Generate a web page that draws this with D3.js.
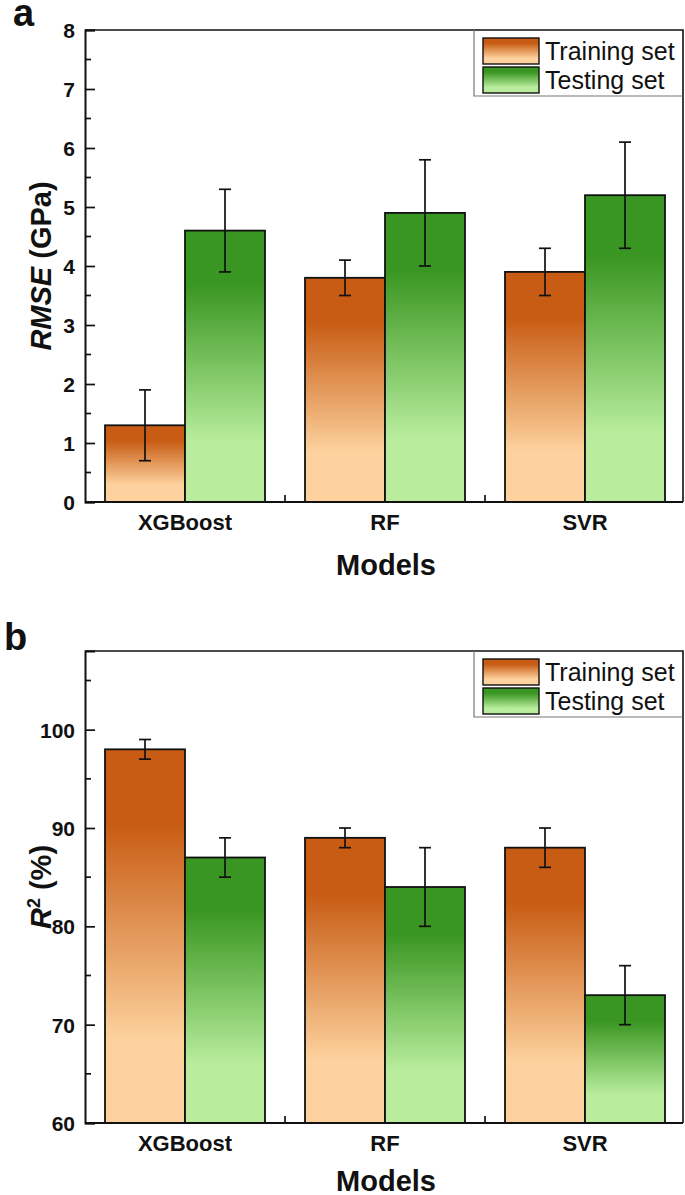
<!DOCTYPE html>
<html><head><meta charset="utf-8">
<script src="https://cdn.jsdelivr.net/npm/d3@7"></script>
<style>body{margin:0;background:#fff;} svg{display:block;font-family:"Liberation Sans",Arial,sans-serif;}</style>
</head><body>
<script>
const models = ["XGBoost","RF","SVR"];
const seriesNames = ["Training set","Testing set"];
// Panel a: RMSE (GPa)
const rmseTrain = [1.3, 3.8, 3.9];
const rmseTrainErr = [0.6, 0.3, 0.4];
const rmseTest = [4.6, 4.9, 5.2];
const rmseTestErr = [0.7, 0.9, 0.9];
const rmseTicks = [0,1,2,3,4,5,6,7,8];
// Panel b: R2 (%)
const r2Train = [98, 89, 88];
const r2TrainErr = [1, 1, 2];
const r2Test = [87, 84, 73];
const r2TestErr = [2, 4, 3];
const r2Ticks = [60,70,80,90,100];

const W = 685, H = 1195;
const svg = d3.select("body").append("svg").attr("width", W).attr("height", H);
const defs = svg.append("defs");
const grads = [
  {id:"gOrange", dark:"#c85c14", light:"#fdd29e"},
  {id:"gGreen", dark:"#3a9622", light:"#b9ed9d"}
];
grads.forEach(g => {
  const lg = defs.append("linearGradient").attr("id", g.id).attr("x1",0).attr("y1",0).attr("x2",0).attr("y2",1);
  lg.append("stop").attr("offset","0").attr("stop-color", g.dark);
  lg.append("stop").attr("offset","0.2").attr("stop-color", g.dark);
  lg.append("stop").attr("offset","0.78").attr("stop-color", g.light);
  lg.append("stop").attr("offset","1").attr("stop-color", g.light);
});
const fills = ["url(#gOrange)","url(#gGreen)"];

function panel(cfg) {
  const left = 85, right = 683, top = cfg.top, bottom = cfg.bottom;
  const g = svg.append("g");
  const x = d3.scaleBand().domain(models).range([left, left + 600]).paddingInner(0.2).paddingOuter(0.1);
  const x1 = d3.scaleBand().domain(seriesNames).range([0, x.bandwidth()]);
  const y = d3.scaleLinear().domain(cfg.domain).range([bottom, top]);

  const data = [];
  models.forEach((m,i) => {
    data.push({m, s:seriesNames[0], v:cfg.train[i], e:cfg.trainErr[i], k:0});
    data.push({m, s:seriesNames[1], v:cfg.test[i], e:cfg.testErr[i], k:1});
  });

  g.selectAll("rect.bar").data(data).join("rect")
    .attr("x", d => x(d.m) + x1(d.s))
    .attr("width", x1.bandwidth())
    .attr("y", d => y(d.v))
    .attr("height", d => y(cfg.domain[0]) - y(d.v))
    .attr("fill", d => fills[d.k])
    .attr("stroke", "#111").attr("stroke-width", 1.8);

  const eb = g.selectAll("g.eb").data(data).join("g").attr("stroke","#111").attr("stroke-width",1.7);
  eb.append("line")
    .attr("x1", d => x(d.m) + x1(d.s) + x1.bandwidth()/2)
    .attr("x2", d => x(d.m) + x1(d.s) + x1.bandwidth()/2)
    .attr("y1", d => y(d.v + d.e)).attr("y2", d => y(d.v - d.e));
  [1,-1].forEach(sgn => {
    eb.append("line")
      .attr("x1", d => x(d.m) + x1(d.s) + x1.bandwidth()/2 - 6)
      .attr("x2", d => x(d.m) + x1(d.s) + x1.bandwidth()/2 + 6)
      .attr("y1", d => y(d.v + sgn*d.e)).attr("y2", d => y(d.v + sgn*d.e));
  });

  g.append("path").attr("d", `M${left},${top}H${right}V${bottom}`).attr("fill","none").attr("stroke","#111").attr("stroke-width",1.6);

  const yAxis = d3.axisLeft(y).tickValues(cfg.ticks).tickSize(-10).tickPadding(10).tickFormat(d3.format("d"));
  const ya = g.append("g").attr("transform", `translate(${left},0)`).call(yAxis);
  ya.select(".domain").attr("stroke","#111").attr("stroke-width",2);
  ya.selectAll(".tick line").attr("stroke","#111").attr("stroke-width",1.7);
  ya.selectAll(".tick text").attr("font-size", 21).attr("font-weight","bold").attr("fill","#111").attr("dy","0.36em");
  g.selectAll("line.minor").data(cfg.minors).join("line")
    .attr("x1", left).attr("x2", left + 6)
    .attr("y1", d => y(d)).attr("y2", d => y(d))
    .attr("stroke","#111").attr("stroke-width",1.7);

  const xa = g.append("g").attr("transform", `translate(0,${bottom})`)
    .call(d3.axisBottom(x).tickSize(0).tickPadding(12));
  xa.select(".domain").attr("d", `M${left},0H${right}`).attr("stroke","#111").attr("stroke-width",2);
  xa.selectAll(".tick text").attr("font-size", 22).attr("font-weight","bold").attr("fill","#111");
  const betweens = models.slice(1).map(m => x(m) - x.step()*x.paddingInner()/2);
  g.selectAll("line.xm").data(betweens).join("line")
    .attr("x1", d => d).attr("x2", d => d).attr("y1", bottom).attr("y2", bottom - 7)
    .attr("stroke","#111").attr("stroke-width",1.7);

  g.append("text").attr("x", (left + right)/2 + 2).attr("y", cfg.titleY)
    .attr("text-anchor","middle").attr("font-size", 29).attr("font-weight","bold").attr("fill","#111").text("Models");
  const yt = g.append("text").attr("transform", `translate(51,${(top+bottom)/2}) rotate(-90)`)
    .attr("text-anchor","middle").attr("font-size", 29).attr("font-weight","bold").attr("fill","#111");
  cfg.ytitle(yt);

  g.append("text").attr("x", cfg.letterX).attr("y", cfg.letterY).attr("font-size", 38).attr("font-weight","bold").attr("fill","#111").text(cfg.letter);

  const lx = 474, ly = top;
  g.append("path").attr("d", `M${lx},${ly}V${ly+66}H${right}`).attr("fill","none").attr("stroke","#777").attr("stroke-width",1.2);
  seriesNames.forEach((s,i) => {
    g.append("rect").attr("x", lx + 9).attr("y", ly + 8 + i*29).attr("width", 56).attr("height", 26)
      .attr("fill", fills[i]).attr("stroke","#111").attr("stroke-width",1.4);
    g.append("text").attr("x", lx + 71).attr("y", ly + 21 + i*29).attr("dy","0.35em")
      .attr("font-size", 25).attr("fill","#111").text(s);
  });
}

panel({
  top: 30, bottom: 502, domain:[0,8], ticks: rmseTicks,
  minors: d3.range(0.5, 8, 1), titleY: 575,
  train: rmseTrain, trainErr: rmseTrainErr, test: rmseTest, testErr: rmseTestErr,
  letter: "a", letterX: 13, letterY: 26,
  ytitle: t => { t.append("tspan").attr("font-style","italic").text("RMSE"); t.append("tspan").text(" (GPa)"); }
});
panel({
  top: 651, bottom: 1123, domain:[60,108], ticks: r2Ticks,
  minors: d3.range(65, 108, 10), titleY: 1191,
  train: r2Train, trainErr: r2TrainErr, test: r2Test, testErr: r2TestErr,
  letter: "b", letterX: 4, letterY: 650,
  ytitle: t => { t.append("tspan").attr("font-style","italic").text("R"); t.append("tspan").attr("font-size",18).attr("dy",-11).text("2"); t.append("tspan").attr("dy",11).text(" (%)"); }
});
</script>
</body></html>
